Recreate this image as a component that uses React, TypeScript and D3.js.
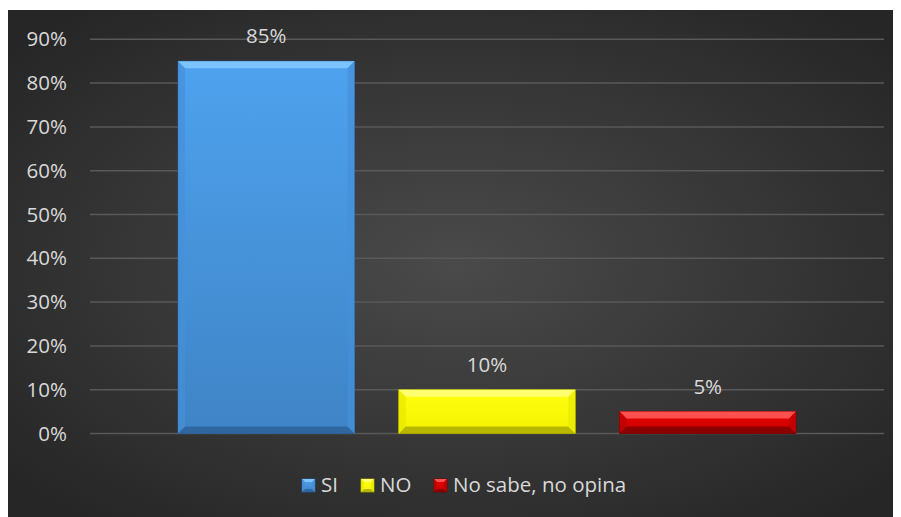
import React from "react";
import * as d3 from "d3";

const categories = ["SI", "NO", "No sabe, no opina"];
const values = [85, 10, 5];
const valueLabels = ["85%", "10%", "5%"];
const yTicks = [0, 10, 20, 30, 40, 50, 60, 70, 80, 90];
const colors = [
  { id: "b", top: "#4ea2ee", base: "#3f84c6", light: "#7cc4ff", dark: "#2c5f96", side: "#4690d8" },
  { id: "y", top: "#ffff10", base: "#f2f200", light: "#ffff70", dark: "#a8a800", side: "#e8e800" },
  { id: "r", top: "#e80000", base: "#c80000", light: "#ff5050", dark: "#7a0000", side: "#b80000" },
];
const legendX = [302, 361, 434];

const W = 893;
const H = 509;
const FONT = "'Open Sans', sans-serif";
const FS = 20.5;

function Bevel({ x, y, w, h, c, b }: any) {
  const bb = Math.min(b, h / 2, w / 2);
  const x1 = x + w, y1 = y + h;
  return (
    <g>
      <rect x={x} y={y} width={w} height={h} fill={`url(#g${c.id})`} stroke={c.dark} strokeWidth={0.8} />
      <polygon points={`${x},${y} ${x1},${y} ${x1 - bb},${y + bb} ${x + bb},${y + bb}`} fill={c.light} />
      <polygon points={`${x},${y1} ${x1},${y1} ${x1 - bb},${y1 - bb} ${x + bb},${y1 - bb}`} fill={c.dark} opacity={0.8} />
      <polygon points={`${x},${y} ${x + bb},${y + bb} ${x + bb},${y1 - bb} ${x},${y1}`} fill={c.side} opacity={0.7} />
      <polygon points={`${x1},${y} ${x1 - bb},${y + bb} ${x1 - bb},${y1 - bb} ${x1},${y1}`} fill={c.side} opacity={0.7} />
    </g>
  );
}

export default function App() {
  const y = d3.scaleLinear().domain([0, 90]).range([433.5 - 8, 39.3 - 8]);
  const x = d3.scaleBand<string>().domain(categories).range([178 - 8, 796 - 8]).paddingInner(0.2).paddingOuter(0);
  const gridX0 = 90 - 8, gridX1 = 884 - 8;
  return (
    <svg width={W} height={H} style={{ display: "block" }}>
      <defs>
        <radialGradient id="bg" cx="50%" cy="50%" r="65%">
          <stop offset="0%" stopColor="#4a4a4a" />
          <stop offset="100%" stopColor="#262626" />
        </radialGradient>
        {colors.map((c) => (
          <linearGradient key={c.id} id={`g${c.id}`} x1="0" y1="0" x2="0" y2="1">
            <stop offset="0%" stopColor={c.top} />
            <stop offset="100%" stopColor={c.base} />
          </linearGradient>
        ))}
      </defs>
      <rect x={0} y={2} width={W} height={H - 2} fill="url(#bg)" />
      {yTicks.map((t) => (
        <g key={t}>
          <line x1={gridX0} x2={gridX1} y1={y(t)} y2={y(t)} stroke="#595959" strokeWidth={1.5} />
          <text x={59} y={y(t)} dy="0.35em" textAnchor="end" fill="#d9d9d9" fontFamily={FONT} fontSize={FS}>
            {t}%
          </text>
        </g>
      ))}
      {categories.map((cat, i) => {
        const bx = x(cat)!;
        const bw = x.bandwidth();
        const by = y(values[i]);
        const bh = y(0) - by;
        return (
          <g key={cat}>
            <Bevel x={bx} y={by} w={bw} h={bh} c={colors[i]} b={7} />
            <text x={bx + bw / 2} y={by - 18} textAnchor="middle" fill="#d9d9d9" fontFamily={FONT} fontSize={FS}>
              {valueLabels[i]}
            </text>
          </g>
        );
      })}
      {categories.map((cat, i) => (
        <g key={cat}>
          <Bevel x={legendX[i] - 8} y={471} w={13} h={13} c={colors[i]} b={3} />
          <text x={legendX[i] - 8 + 19} y={484} fill="#d9d9d9" fontFamily={FONT} fontSize={FS}>
            {cat}
          </text>
        </g>
      ))}
    </svg>
  );
}
